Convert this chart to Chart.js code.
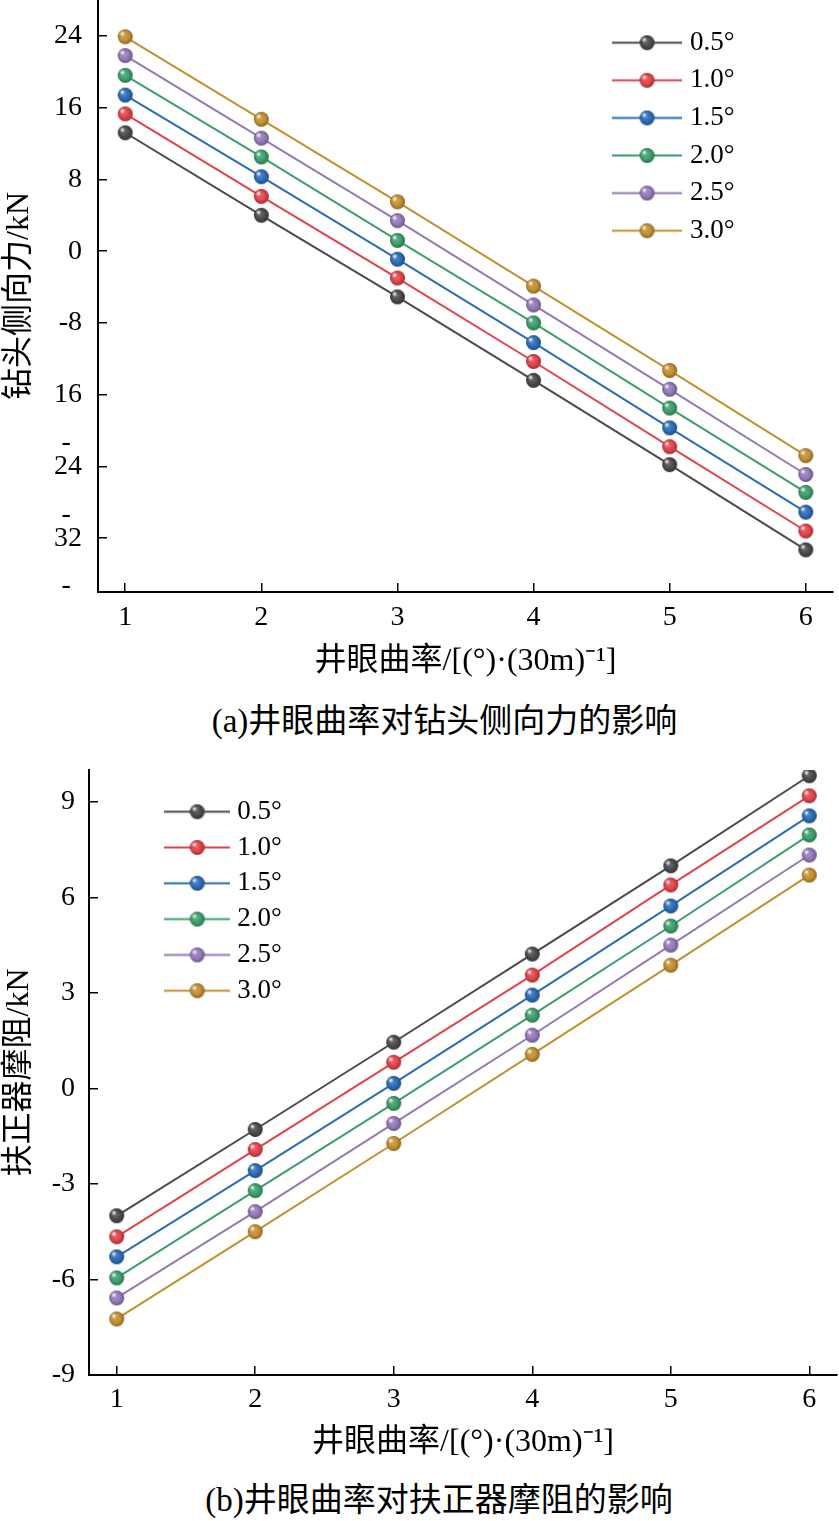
<!DOCTYPE html>
<html>
<head>
<meta charset="utf-8">
<script src="https://cdn.jsdelivr.net/npm/chart.js@4.4.1/dist/chart.umd.min.js"></script>
<style>
  body { margin: 0; background: #fff; width: 839px; height: 1521px; overflow: hidden; }
  .box { position: relative; width: 839px; }
  .cap {
    font-family: "Liberation Serif", "Noto Sans CJK SC", serif;
    font-size: 33px;
    color: #000;
    text-align: center;
    white-space: nowrap;
  }
</style>
</head>
<body>
<div class="box" style="height:700px"><canvas id="lateral"></canvas></div>
<div class="cap" style="height:42px;line-height:42px;padding-left:50px">(a)井眼曲率对钻头侧向力的影响</div>
<div class="box" style="height:738px"><canvas id="drag"></canvas></div>
<div class="cap" style="height:40px;line-height:40px;padding-left:39px">(b)井眼曲率对扶正器摩阻的影响</div>

<script>
const FONT = '"Liberation Serif", "Noto Sans CJK SC", serif';

// x: dogleg severity, (°)/30m
const curvature = [1, 2, 3, 4, 5, 6];
const seriesNames = ["0.5°", "1.0°", "1.5°", "2.0°", "2.5°", "3.0°"];
const seriesColors = ["#4a4a4c", "#e2434b", "#2b6cb6", "#3c9f6b", "#9479b8", "#c38f2f"];

// (a) bit side force, kN
const sideForce05 = [13.2, 4.0, -5.1, -14.4, -23.8, -33.3];
const sideForce10 = [15.3, 6.1, -3.0, -12.3, -21.8, -31.2];
const sideForce15 = [17.4, 8.3, -0.9, -10.2, -19.7, -29.1];
const sideForce20 = [19.6, 10.5, 1.2, -8.0, -17.5, -26.9];
const sideForce25 = [21.8, 12.6, 3.4, -6.0, -15.4, -24.9];
const sideForce30 = [23.9, 14.7, 5.5, -3.9, -13.3, -22.8];
const sideTicks = [-32, -24, -16, -8, 0, 8, 16, 24];
// the figure prints the minus of the lower labels on a line of its own
const sideTickLabels = [
  ["", "32", "-\u2009\u2009"],
  ["", "24", "-\u2009\u2009"],
  ["", "16", "-\u2009\u2009"],
  "-8", "0", "8", "16", "24",
];

// (b) stabilizer drag, kN
const drag05 = [-4.0, -1.29, 1.45, 4.22, 6.99, 9.82];
const drag10 = [-4.66, -1.92, 0.82, 3.56, 6.39, 9.19];
const drag15 = [-5.29, -2.58, 0.16, 2.93, 5.73, 8.56];
const drag20 = [-5.95, -3.21, -0.47, 2.30, 5.10, 7.96];
const drag25 = [-6.58, -3.87, -1.10, 1.67, 4.50, 7.33];
const drag30 = [-7.24, -4.50, -1.73, 1.07, 3.87, 6.70];
const dragTicks = [-9, -6, -3, 0, 3, 6, 9];
const dragTickLabels = ["-9", "-6", "-3", "0", "3", "6", "9"];

function shade(hex, k) {
  const n = parseInt(hex.slice(1), 16);
  const f = (c) => Math.round(k > 0 ? c + (255 - c) * k : c * (1 + k));
  return `rgb(${f(n >> 16)},${f((n >> 8) & 255)},${f(n & 255)})`;
}

// glossy ball used as point marker
function makeBall(color, r) {
  const size = Math.ceil(r * 2) + 2;
  const c = document.createElement("canvas");
  c.width = size;
  c.height = size;
  const ctx = c.getContext("2d");
  const m = size / 2;
  const body = ctx.createRadialGradient(m - r * 0.3, m - r * 0.3, r * 0.1, m, m, r);
  body.addColorStop(0, shade(color, 0.2));
  body.addColorStop(0.6, color);
  body.addColorStop(1, shade(color, -0.3));
  ctx.fillStyle = body;
  ctx.beginPath();
  ctx.arc(m, m, r, 0, Math.PI * 2);
  ctx.fill();
  const hx = m - r * 0.38, hy = m - r * 0.4;
  const hl = ctx.createRadialGradient(hx, hy, 0, hx, hy, r * 0.38);
  hl.addColorStop(0, "rgba(255,255,255,0.95)");
  hl.addColorStop(1, "rgba(255,255,255,0)");
  ctx.fillStyle = hl;
  ctx.beginPath();
  ctx.arc(m, m, r, 0, Math.PI * 2);
  ctx.fill();
  return c;
}

function makeLegendIcon(color, w, r) {
  const ball = makeBall(color, r);
  const c = document.createElement("canvas");
  c.width = w;
  c.height = ball.height;
  const ctx = c.getContext("2d");
  ctx.strokeStyle = color;
  ctx.lineWidth = 2;
  ctx.beginPath();
  ctx.moveTo(0, c.height / 2);
  ctx.lineTo(w, c.height / 2);
  ctx.stroke();
  ctx.drawImage(ball, (w - ball.width) / 2, 0);
  return c;
}

function buildDatasets(series) {
  return series.map((values, i) => ({
    label: seriesNames[i],
    data: values.map((v, j) => ({ x: curvature[j], y: v })),
    borderColor: seriesColors[i],
    backgroundColor: seriesColors[i],
    borderWidth: 2,
    pointStyle: makeBall(seriesColors[i], 7.5),
    pointRadius: 8,
    pointHoverRadius: 8,
    tension: 0,
  }));
}

// put the vertical legend where the figure has it
const legendShift = {
  id: "legendShift",
  afterLayout(chart, args, opts) {
    const lg = chart.legend;
    if (!lg) return;
    lg.left = opts.left;
    lg.right = opts.left + lg.width;
    lg.top = chart.chartArea.top + opts.top;
    lg.bottom = lg.top + lg.height;
  },
};

function axisLine() {
  return {
    grid: { drawOnChartArea: false, tickLength: -9, color: "#000", lineWidth: 1.5 },
    border: { display: true, color: "#000", width: 2 },
  };
}

function makeChart(id, cfg) {
  const icons = seriesColors.map((c) => makeLegendIcon(c, cfg.iconWidth, 7.5));
  return new Chart(document.getElementById(id), {
    type: "line",
    data: { datasets: buildDatasets(cfg.series) },
    plugins: [legendShift],
    options: {
      responsive: true,
      maintainAspectRatio: false,
      animation: false,
      events: [],
      layout: { autoPadding: false, padding: cfg.padding },
      plugins: {
        tooltip: { enabled: false },
        legendShift: cfg.legendAt,
        legend: {
          position: "chartArea",
          align: "start",
          labels: {
            usePointStyle: true,
            pointStyleWidth: cfg.boxWidth,
            boxHeight: 27,
            padding: cfg.legendGap,
            color: "#000",
            font: { family: FONT, size: 27 },
            generateLabels(chart) {
              const items = Chart.defaults.plugins.legend.labels.generateLabels(chart);
              items.forEach((it) => { it.pointStyle = icons[it.datasetIndex]; });
              return items;
            },
          },
        },
      },
      scales: {
        x: {
          type: "linear",
          min: 0.8,
          max: 6.2,
          afterBuildTicks: (axis) => { axis.ticks = curvature.map((v) => ({ value: v })); },
          afterFit: (axis) => { axis.height = cfg.xHeight; axis.paddingLeft = 0; axis.paddingRight = 0; },
          ticks: {
            autoSkip: false,
            padding: cfg.xTickPad,
            color: "#000",
            font: { family: FONT, size: 28 },
            callback: (v) => String(v),
          },
          ...axisLine(),
          title: {
            display: true,
            text: "井眼曲率/[(°)·(30m)⁻¹]",
            color: "#000",
            font: { family: FONT, size: 32 },
            padding: { top: 0, bottom: cfg.xTitlePad },
          },
        },
        y: {
          type: "linear",
          min: cfg.yMin,
          max: cfg.yMax,
          afterBuildTicks: (axis) => { axis.ticks = cfg.ticks.map((v) => ({ value: v })); },
          afterFit: (axis) => { axis.width = cfg.yWidth; axis.paddingTop = 0; axis.paddingBottom = 0; },
          ticks: {
            autoSkip: false,
            padding: cfg.yTickPad,
            color: "#000",
            font: { family: FONT, size: 28, lineHeight: 1.71 },
            callback: (v, i) => cfg.tickLabels[i],
          },
          ...axisLine(),
          title: {
            display: true,
            text: cfg.yTitle,
            color: "#000",
            font: { family: FONT, size: 32 },
            padding: { top: 0, bottom: 0 },
          },
        },
      },
    },
  });
}

makeChart("lateral", {
  series: [sideForce05, sideForce10, sideForce15, sideForce20, sideForce25, sideForce30],
  ticks: sideTicks,
  tickLabels: sideTickLabels,
  yMin: -38,
  yMax: 28,
  yTitle: "钻头侧向力/kN",
  padding: { left: 0, right: 6, top: 0, bottom: 0 },
  yWidth: 98,
  yTickPad: 25,
  xHeight: 108,
  xTickPad: 18,
  xTitlePad: 19,
  iconWidth: 70,
  boxWidth: 59,
  legendGap: 10.6,
  legendAt: { left: 607, top: 18.6 },
});

makeChart("drag", {
  series: [drag05, drag10, drag15, drag20, drag25, drag30],
  ticks: dragTicks,
  tickLabels: dragTickLabels,
  yMin: -9,
  yMax: 10,
  yTitle: "扶正器摩阻/kN",
  padding: { left: 0, right: 2, top: 28, bottom: 0 },
  yWidth: 89,
  yTickPad: 23,
  xHeight: 105,
  xTickPad: 17,
  xTitlePad: 18,
  iconWidth: 66,
  boxWidth: 53,
  legendGap: 8.8,
  legendAt: { left: 162, top: 19.4 },
});
</script>
</body>
</html>
